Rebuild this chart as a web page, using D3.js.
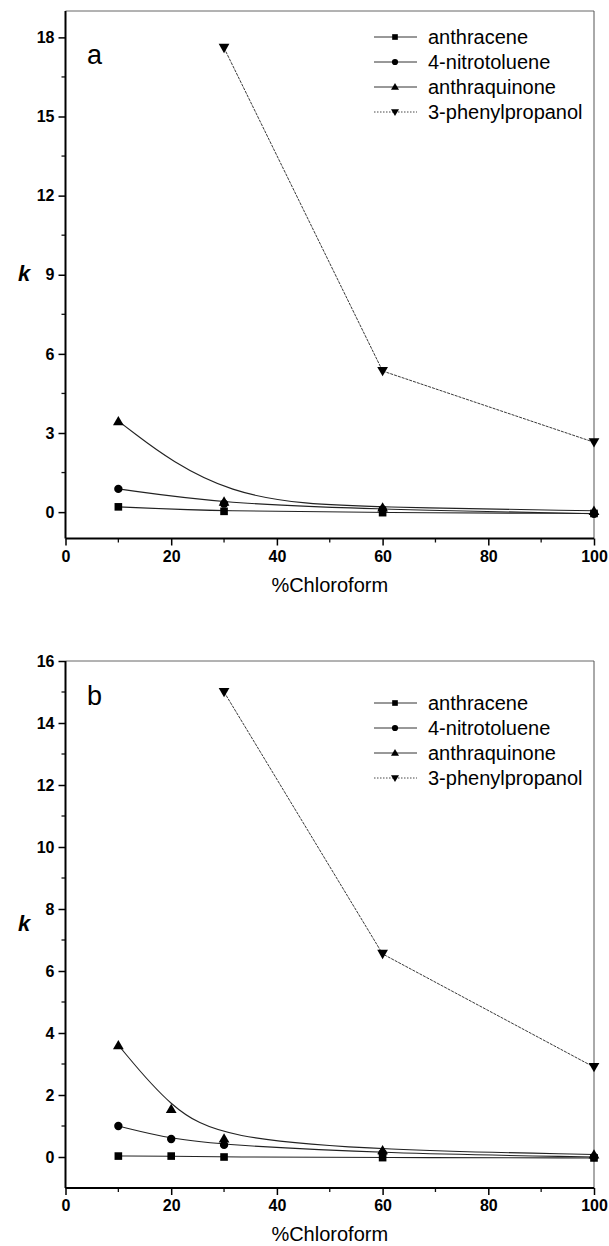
<!DOCTYPE html>
<html>
<head>
<meta charset="utf-8">
<script src="https://cdn.jsdelivr.net/npm/d3@7"></script>
<style>
  body { margin: 0; background: #fff; }
  svg { display: block; }
</style>
</head>
<body>
<div id="chart"></div>
<script>
// Series names (legend order)
const seriesNames = ['anthracene', '4-nitrotoluene', 'anthraquinone', '3-phenylpropanol'];

// Panel a: k vs %chloroform
const xA = [10, 30, 60, 100];
const anthraceneA = [0.2, 0.03, -0.02, -0.05];
const nitrotolueneA = [0.88, 0.32, 0.1, -0.06];
const anthraquinoneA = [3.45, 0.4, 0.18, 0.05];
const xPhenA = [30, 60, 100];
const phenylpropanolA = [17.6, 5.35, 2.65];
const yTicksA = [0, 3, 6, 9, 12, 15, 18];

// Panel b
const xB = [10, 20, 30, 60, 100];
const anthraceneB = [0.03, 0.03, 0.0, -0.02, -0.03];
const nitrotolueneB = [1.0, 0.58, 0.39, 0.12, 0.0];
const anthraquinoneB = [3.61, 1.55, 0.6, 0.22, 0.08];
const xPhenB = [30, 60, 100];
const phenylpropanolB = [15.0, 6.55, 2.9];
const yTicksB = [0, 2, 4, 6, 8, 10, 12, 14, 16];

const xTicks = [0, 20, 40, 60, 80, 100];

// Layout
const W = 609, H = 1246;
const X0 = 65.5, X1 = 594;
const FONT = 'Arial, "Liberation Sans", Helvetica, sans-serif';

const svg = d3.select('#chart').append('svg')
  .attr('width', W).attr('height', H)
  .attr('viewBox', `0 0 ${W} ${H}`);

const markerType = [d3.symbolSquare, d3.symbolCircle, d3.symbolTriangle, d3.symbolTriangle];
const markerSize = [58, 55, 50, 50];
const markerRot = [0, 0, 0, 180];

function drawPanel(p) {
  const x = d3.scaleLinear().domain([0, 100]).range([X0, X1]);
  const y = d3.scaleLinear().domain(p.yDomain).range([p.yBottom, p.yTop]);
  const g = svg.append('g');

  // frame: top and right thin grey
  g.append('line').attr('x1', X0).attr('x2', X1).attr('y1', p.yTop).attr('y2', p.yTop)
    .attr('stroke', '#666').attr('stroke-width', 1);
  g.append('line').attr('x1', X1).attr('x2', X1).attr('y1', p.yTop).attr('y2', p.yBottom)
    .attr('stroke', '#555').attr('stroke-width', 1);

  // minor ticks
  const minorX = d3.range(10, 100, 20);
  g.append('g').selectAll('line').data(minorX).enter().append('line')
    .attr('x1', d => x(d)).attr('x2', d => x(d))
    .attr('y1', p.yBottom).attr('y2', p.yBottom + 4)
    .attr('stroke', '#111').attr('stroke-width', 1.3);
  const minorY = d3.range(0, p.yDomain[1] + 0.001, p.minorStep)
    .filter(v => !p.yTicks.includes(v) && v < p.yDomain[1]);
  g.append('g').selectAll('line').data(minorY).enter().append('line')
    .attr('x1', X0 - 4).attr('x2', X0)
    .attr('y1', d => y(d)).attr('y2', d => y(d))
    .attr('stroke', '#111').attr('stroke-width', 1.3);

  // axes
  const xAxis = g.append('g').attr('transform', `translate(0,${p.yBottom})`)
    .call(d3.axisBottom(x).tickValues(xTicks).tickSize(7).tickPadding(5).tickSizeOuter(0));
  const yAxis = g.append('g').attr('transform', `translate(${X0},0)`)
    .call(d3.axisLeft(y).tickValues(p.yTicks).tickSize(7).tickPadding(4).tickSizeOuter(0));
  [xAxis, yAxis].forEach(a => {
    a.select('.domain').attr('stroke', '#000').attr('stroke-width', 2);
    a.selectAll('.tick line').attr('stroke', '#000').attr('stroke-width', 1.5);
    a.selectAll('.tick text').attr('font-family', FONT).attr('font-size', 16)
      .attr('font-weight', 'bold').attr('fill', '#000');
  });
  yAxis.select('.domain').attr('d', `M0,${p.yBottom}V${p.yTop}`);
  xAxis.select('.domain').attr('d', `M${X0},0H${X1}`);

  // axis titles
  g.append('text').attr('x', (X0 + X1) / 2).attr('y', p.yBottom + 53)
    .attr('text-anchor', 'middle').attr('font-family', FONT).attr('font-size', 20)
    .text('%Chloroform');
  g.append('text').attr('x', 24).attr('y', (p.yTop + p.yBottom) / 2 + 6)
    .attr('text-anchor', 'middle').attr('font-family', FONT).attr('font-size', 22)
    .attr('font-style', 'italic').attr('font-weight', 'bold').text('k');

  // panel letter
  g.append('text').attr('x', 87).attr('y', p.letterY)
    .attr('font-family', FONT).attr('font-size', 27).text(p.letter);

  // series
  const series = [
    { xs: p.x, ys: p.anthracene, curve: d3.curveBasis, dash: null },
    { xs: p.x, ys: p.nitrotoluene, curve: d3.curveBasis, dash: null },
    { xs: p.x, ys: p.anthraquinone, curve: d3.curveBasis, dash: null },
    { xs: p.xPhen, ys: p.phenylpropanol, curve: d3.curveLinear, dash: '3,1' }
  ];

  series.forEach((s, i) => {
    const pts = s.xs.map((v, j) => [v, s.ys[j]]);
    const line = d3.line().x(d => x(d[0])).y(d => y(d[1])).curve(s.curve);
    g.append('path').attr('d', line(pts))
      .attr('fill', 'none').attr('stroke', '#222')
      .attr('stroke-width', i === 3 ? 0.9 : 1.1)
      .attr('stroke-dasharray', s.dash);
  });
  series.forEach((s, i) => {
    const sym = d3.symbol().type(markerType[i]).size(markerSize[i]);
    g.append('g').selectAll('path').data(s.xs.map((v, j) => [v, s.ys[j]])).enter().append('path')
      .attr('d', sym)
      .attr('transform', d => `translate(${x(d[0])},${y(d[1]) + (i >= 2 ? (i === 3 ? -1 : 1) : 0)}) rotate(${markerRot[i]})`)
      .attr('fill', '#000');
  });

  // legend
  const lg = g.append('g');
  seriesNames.forEach((name, i) => {
    const ly = p.legendY + i * 25;
    lg.append('line').attr('x1', 374).attr('x2', 417).attr('y1', ly).attr('y2', ly)
      .attr('stroke', '#333').attr('stroke-width', i === 3 ? 0.9 : 1)
      .attr('stroke-dasharray', i === 3 ? '1.5,1.5' : null);
    lg.append('path')
      .attr('d', d3.symbol().type(markerType[i]).size(markerSize[i] * 0.55))
      .attr('transform', `translate(395,${ly + (i === 2 ? 0.5 : i === 3 ? -0.5 : 0)}) rotate(${markerRot[i]})`)
      .attr('fill', '#000');
    lg.append('text').attr('x', 428).attr('y', ly + 7)
      .attr('font-family', FONT).attr('font-size', 20).attr('fill', '#000').text(name);
  });
}

drawPanel({
  letter: 'a', letterY: 64, legendY: 37,
  yDomain: [-1, 19], yTop: 11, yBottom: 538.5, yTicks: yTicksA, minorStep: 1.5,
  x: xA, anthracene: anthraceneA, nitrotoluene: nitrotolueneA, anthraquinone: anthraquinoneA,
  xPhen: xPhenA, phenylpropanol: phenylpropanolA
});

drawPanel({
  letter: 'b', letterY: 705, legendY: 703,
  yDomain: [-1, 16], yTop: 661, yBottom: 1188, yTicks: yTicksB, minorStep: 1,
  x: xB, anthracene: anthraceneB, nitrotoluene: nitrotolueneB, anthraquinone: anthraquinoneB,
  xPhen: xPhenB, phenylpropanol: phenylpropanolB
});
</script>
</body>
</html>
